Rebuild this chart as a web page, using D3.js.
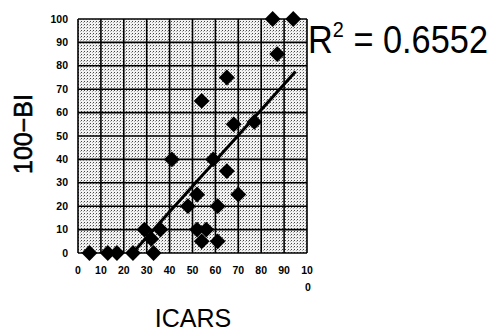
<!DOCTYPE html>
<html>
<head>
<meta charset="utf-8">
<script src="https://cdn.jsdelivr.net/npm/d3@7"></script>
<style>
  body { margin: 0; background: #fff; }
  svg { display: block; }
</style>
</head>
<body>
<div id="chart"></div>
<script>
// values
const icars = [5, 13, 17, 24, 33, 29, 36, 32, 41, 48, 52, 61, 70, 65, 59, 52, 56, 54, 61, 54, 65, 68, 77, 85, 94, 87]
const bi = [0, 0, 0, 0, 0, 10, 10, 6, 40, 20, 25, 20, 25, 35, 40, 10, 10, 5, 5, 65, 75, 55, 56, 100, 100, 85]
const xTicks = [0, 10, 20, 30, 40, 50, 60, 70, 80, 90, 100]
const yTicks = [0, 10, 20, 30, 40, 50, 60, 70, 80, 90, 100]
const trendSlope = 1.09
const trendIntercept = -26
const r2Label = "0.6552"

const width = 493
const height = 332
const margin = { top: 19, right: 186, bottom: 79, left: 78 }

const svg = d3.select("#chart")
    .append("svg")
    .attr("width", width)
    .attr("height", height)

const x = d3.scaleLinear().domain([0, 100]).range([margin.left, width - margin.right])
const y = d3.scaleLinear().domain([0, 100]).range([height - margin.bottom, margin.top])

// halftone-ish background of the plot area
const defs = svg.append("defs")
const pat = defs.append("pattern")
    .attr("id", "dots")
    .attr("width", 3)
    .attr("height", 3)
    .attr("patternUnits", "userSpaceOnUse")
pat.append("rect").attr("width", 3).attr("height", 3).attr("fill", "#f2f2f2")
pat.append("rect").attr("x", 0).attr("y", 0).attr("width", 1).attr("height", 1).attr("fill", "#444")
pat.append("rect").attr("x", 2).attr("y", 1).attr("width", 1).attr("height", 1).attr("fill", "#aaa")

defs.append("clipPath").attr("id", "plot-clip")
    .append("rect")
    .attr("x", x(0)).attr("y", y(100))
    .attr("width", x(100) - x(0)).attr("height", y(0) - y(100))

svg.append("rect")
    .attr("x", x(0)).attr("y", y(100))
    .attr("width", x(100) - x(0)).attr("height", y(0) - y(100))
    .attr("fill", "url(#dots)")

// grid
svg.selectAll(".vgrid").data(xTicks)
    .enter().append("line")
    .attr("class", "vgrid")
    .attr("x1", d => x(d)).attr("x2", d => x(d))
    .attr("y1", y(0)).attr("y2", y(100))
    .attr("stroke", "#000")
    .attr("stroke-width", 1.6)

svg.selectAll(".hgrid").data(yTicks)
    .enter().append("line")
    .attr("class", "hgrid")
    .attr("x1", x(0)).attr("x2", x(100))
    .attr("y1", d => y(d)).attr("y2", d => y(d))
    .attr("stroke", "#000")
    .attr("stroke-width", 1.6)

// tick labels
svg.selectAll(".ylab").data(yTicks)
    .enter().append("text")
    .attr("class", "ylab")
    .attr("x", x(0) - 10)
    .attr("y", d => y(d))
    .attr("dy", "0.35em")
    .attr("text-anchor", "end")
    .attr("font-family", "Liberation Sans, Arial, sans-serif")
    .attr("font-weight", "bold")
    .attr("font-size", "10.5px")
    .text(d => d)

svg.selectAll(".xlab").data(xTicks)
    .enter().append("text")
    .attr("class", "xlab")
    .attr("x", d => x(d))
    .attr("y", 274)
    .attr("text-anchor", "middle")
    .attr("font-family", "Liberation Sans, Arial, sans-serif")
    .attr("font-weight", "bold")
    .attr("font-size", "10.5px")
    .text(d => d === 100 ? "10" : d)

svg.append("text")
    .attr("x", x(100) + 1)
    .attr("y", 291)
    .attr("text-anchor", "middle")
    .attr("font-family", "Liberation Sans, Arial, sans-serif")
    .attr("font-weight", "bold")
    .attr("font-size", "10.5px")
    .text("0")

// trend line (Excel style, over data x range, clipped to plot)
const xMin = d3.min(icars), xMax = d3.max(icars) + 1
svg.append("line")
    .attr("clip-path", "url(#plot-clip)")
    .attr("x1", x(xMin)).attr("y1", y(trendSlope * xMin + trendIntercept))
    .attr("x2", x(xMax)).attr("y2", y(trendSlope * xMax + trendIntercept))
    .attr("stroke", "#000")
    .attr("stroke-width", 3)

// points
const points = icars.map((d, i) => ({ x: d, y: bi[i] }))
svg.selectAll(".pt").data(points)
    .enter().append("path")
    .attr("class", "pt")
    .attr("d", d3.symbol(d3.symbolSquare, 125))
    .attr("transform", d => `translate(${x(d.x)},${y(d.y)}) rotate(45)`)
    .attr("fill", "#000")

// axis titles
svg.append("text")
    .attr("x", 193)
    .attr("y", 327)
    .attr("text-anchor", "middle")
    .attr("font-family", "Liberation Sans, Arial, sans-serif")
    .attr("font-size", "25px")
    .text("ICARS")

svg.append("text")
    .attr("transform", "translate(32,134) rotate(-90)")
    .attr("text-anchor", "middle")
    .attr("font-family", "Liberation Sans, Arial, sans-serif")
    .attr("font-size", "25px")
    .attr("stroke", "#000")
    .attr("stroke-width", 0.6)
    .text("100\u2212BI")

// R squared
const r2 = svg.append("text")
    .attr("x", 308)
    .attr("y", 53)
    .attr("font-family", "Liberation Sans, Arial, sans-serif")
    .attr("font-size", "38px")
    .attr("textLength", 180)
    .attr("lengthAdjust", "spacingAndGlyphs")
r2.append("tspan").text("R")
r2.append("tspan").attr("font-size", "22px").attr("dy", -16).text("2")
r2.append("tspan").attr("dy", 16).text(" = " + r2Label)
</script>
</body>
</html>
